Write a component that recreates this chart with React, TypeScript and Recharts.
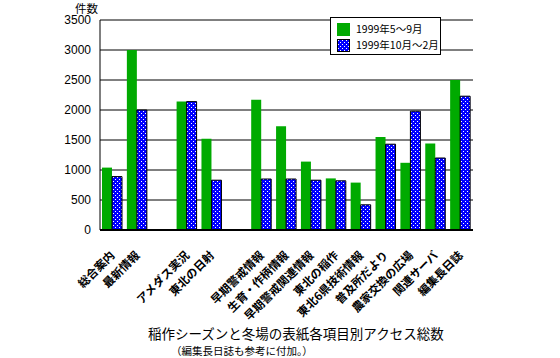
import { BarChart, Bar, XAxis, YAxis, CartesianGrid } from 'recharts';

const categories = [
  '総合案内', '最新情報', '', 'アメダス実況', '東北の日射', '',
  '早期警戒情報', '生育・作柄情報', '早期警戒関連情報', '東北の稲作',
  '東北6県技術情報', '普及所だより', '農家交換の広場', '関連サーバ', '編集長日誌',
];
const summerCounts = [1040, 3000, null, 2140, 1520, null, 2170, 1730, 1140, 860, 790, 1550, 1120, 1440, 2500];
const winterCounts = [890, 2000, null, 2140, 830, null, 850, 850, 830, 820, 420, 1430, 1980, 1200, 2230];
const seriesNames = ['1999年5～9月', '1999年10月～2月'];
const yTicks = [0, 500, 1000, 1500, 2000, 2500, 3000, 3500];

const data = categories.map((name, i) => ({
  id: `c${i}`,
  name,
  summer: summerCounts[i],
  winter: winterCounts[i],
}));

const GREEN = '#00aa00';
const JP = '"Noto Sans CJK JP", sans-serif';
const NUM = '"Liberation Sans", Arial, sans-serif';

const CategoryTick = ({ x, y, payload }: any) => {
  const label = categories[payload.index] ?? '';
  return (
    <g transform={`translate(${x + 3},${y + 18})`}>
      <text
        x={0}
        y={0}
        textAnchor="end"
        transform="rotate(-45)"
        fontFamily={JP}
        fontSize={11.5}
        fontWeight={700}
        fill="#000"
      >
        {label}
      </text>
    </g>
  );
};

const LegendBox = () => (
  <div
    style={{
      position: 'absolute',
      left: 330,
      top: 17,
      width: 109,
      height: 36,
      background: '#fff',
      border: '1px solid #000',
      fontFamily: JP,
      fontSize: 10.5,
      lineHeight: '16px',
      whiteSpace: 'nowrap',
    }}
  >
    {seriesNames.map((s, i) => (
      <div key={s} style={{ display: 'flex', alignItems: 'center', height: 16, marginTop: i === 0 ? 3 : 0, paddingLeft: 6 }}>
        <svg width={13} height={13} style={{ marginRight: 6, flex: 'none' }}>
          {i === 0 ? (
            <rect x={0} y={0} width={13} height={13} fill={GREEN} />
          ) : (
            <rect x={0.5} y={0.5} width={12} height={12} fill="url(#dots)" stroke="#000" />
          )}
        </svg>
        <span>{s}</span>
      </div>
    ))}
  </div>
);

export default function App() {
  return (
    <div style={{ position: 'absolute', left: 0, top: 0, width: 560, height: 358, background: '#fff' }}>
      <BarChart
        width={560}
        height={358}
        data={data}
        margin={{ top: 20, right: 87, bottom: 28, left: 60 }}
        barCategoryGap={2}
        barGap={0}
      >
        <defs>
          <pattern id="dots" width={4} height={4} patternUnits="userSpaceOnUse">
            <rect x={0} y={0} width={4} height={4} fill="#0000ff" />
            <rect x={1} y={1} width={1} height={1} fill="#fff" />
            <rect x={3} y={3} width={1} height={1} fill="#fff" />
          </pattern>
        </defs>
        <CartesianGrid vertical={false} stroke="#000" strokeWidth={1} />
        <XAxis
          dataKey="id"
          height={100}
          interval={0}
          tickLine={false}
          axisLine={{ stroke: '#000', strokeWidth: 2 }}
          tick={<CategoryTick />}
        />
        <YAxis
          width={40}
          domain={[0, 3500]}
          ticks={yTicks}
          tickLine={false}
          tickSize={6}
          tickMargin={3}
          axisLine={{ stroke: '#000' }}
          tick={{ fill: '#000', fontSize: 12, fontFamily: NUM }}
        />
        <YAxis
          yAxisId="frame"
          orientation="right"
          width={0}
          domain={[0, 3500]}
          tick={false}
          tickLine={false}
          axisLine={{ stroke: '#000' }}
        />
        <Bar dataKey="summer" name={seriesNames[0]} fill={GREEN} isAnimationActive={false} />
        <Bar dataKey="winter" name={seriesNames[1]} fill="url(#dots)" stroke="#000" strokeWidth={1} isAnimationActive={false} />
      </BarChart>
      <LegendBox />
      <div style={{ position: 'absolute', left: 75, top: 1, fontFamily: JP, fontSize: 11.5, lineHeight: '14px' }}>件数</div>
      <div
        style={{
          position: 'absolute',
          left: 148,
          top: 325,
          fontFamily: JP,
          fontSize: 13.5,
          lineHeight: '17px',
          whiteSpace: 'nowrap',
        }}
      >
        稲作シーズンと冬場の表紙各項目別アクセス総数
      </div>
      <div
        style={{
          position: 'absolute',
          left: 171,
          top: 344,
          fontFamily: JP,
          fontSize: 10.5,
          lineHeight: '13px',
          whiteSpace: 'nowrap',
        }}
      >
        （編集長日誌も参考に付加。）
      </div>
    </div>
  );
}
